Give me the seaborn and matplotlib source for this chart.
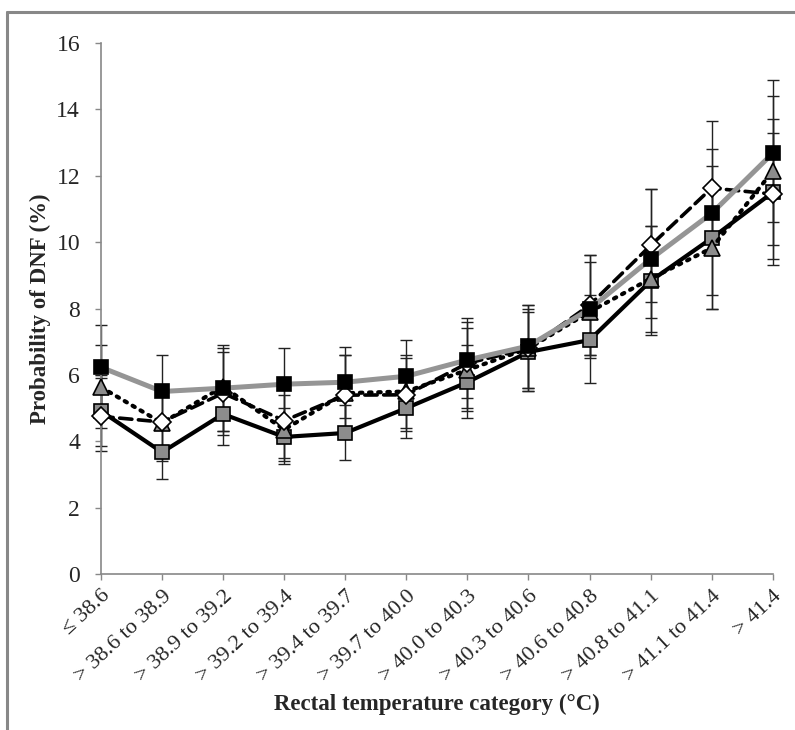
import matplotlib
matplotlib.use("Agg")
import matplotlib.pyplot as plt
import seaborn as sns
import numpy as np
import pandas as pd
from matplotlib.lines import Line2D

categories = ["≤ 38.6", "> 38.6 to 38.9", "> 38.9 to 39.2", "> 39.2 to 39.4",
              "> 39.4 to 39.7", "> 39.7 to 40.0", "> 40.0 to 40.3", "> 40.3 to 40.6",
              "> 40.6 to 40.8", "> 40.8 to 41.1", "> 41.1 to 41.4", "> 41.4"]

black_sq = [6.23, 5.5, 5.6, 5.72, 5.78, 5.96, 6.45, 6.87, 7.98, 9.49, 10.87, 12.68]
black_sq_lo = [5.0, 4.4, 4.3, 4.6, 4.7, 4.85, 5.3, 5.6, 6.6, 7.7, 8.4, 10.6]
black_sq_hi = [7.5, 6.6, 6.9, 6.8, 6.85, 7.05, 7.7, 8.1, 9.6, 11.6, 13.65, 14.9]

gray_sq = [4.91, 3.67, 4.82, 4.13, 4.25, 5.0, 5.78, 6.69, 7.05, 8.83, 10.12, 11.5]
gray_sq_lo = [3.85, 2.85, 3.9, 3.3, 3.45, 4.1, 4.7, 5.5, 5.75, 7.2, 8.0, 9.3]
gray_sq_hi = [6.0, 4.5, 5.7, 5.0, 5.1, 5.9, 6.9, 7.9, 8.4, 10.5, 12.3, 13.7]

triangle = [5.63, 4.55, 5.65, 4.35, 5.45, 5.5, 6.15, 6.8, 7.9, 8.9, 9.82, 12.14]
triangle_lo = [4.4, 3.4, 4.3, 3.4, 4.3, 4.4, 4.9, 5.5, 6.5, 7.3, 8.0, 9.9]
triangle_hi = [6.9, 5.7, 6.8, 5.4, 6.6, 6.6, 7.4, 8.1, 9.4, 10.5, 11.7, 14.4]

diamond = [4.75, 4.58, 5.45, 4.62, 5.39, 5.4, 6.35, 6.8, 8.1, 9.9, 11.63, 11.45]
diamond_lo = [3.7, 3.5, 4.2, 3.5, 4.2, 4.3, 5.0, 5.6, 6.6, 8.2, 9.6, 9.5]
diamond_hi = [5.9, 5.6, 6.7, 5.7, 6.6, 6.5, 7.6, 8.0, 9.6, 11.6, 12.8, 13.3]

sns.set_theme(style="white")
plt.rcParams['font.family'] = ['Liberation Serif', 'DejaVu Serif']

fig = plt.figure(figsize=(7.95, 7.30), dpi=100)
ax = fig.add_axes([0.127, 0.2137, 0.845, 0.7273])

x = np.arange(len(categories))

series = [
    # values, lo, hi, line color, linestyle, lw, marker, face, ms, z
    (gray_sq, gray_sq_lo, gray_sq_hi, "black", "-", 3.0, "s", "#8c8c8c", 10.5, 3),
    (triangle, triangle_lo, triangle_hi, "black", (0, (0.6, 1.6)), 3.0, "^", "#8c8c8c", 11, 4),
    (diamond, diamond_lo, diamond_hi, "black", (0, (3.4, 1.8)), 2.6, "D", "white", 9, 5),
    (black_sq, black_sq_lo, black_sq_hi, "#959595", "-", 3.6, "s", "black", 10.5, 6),
]

# error bars first
for vals, lo, hi, *_ in series:
    v = np.array(vals)
    err = np.vstack([v - np.array(lo), np.array(hi) - v])
    ax.errorbar(x, v, yerr=err, fmt="none", ecolor="#222222", elinewidth=1.0,
                capsize=4, capthick=1.0, zorder=2, clip_on=False)

for vals, lo, hi, lc, ls, lw, mk, fc, ms, z in series:
    df = pd.DataFrame({"x": x, "y": vals})
    sns.lineplot(data=df, x="x", y="y", ax=ax, color=lc, linewidth=lw,
                 marker=None, zorder=z, clip_on=False)
    line = ax.lines[-1]
    line.set_linestyle(ls)
    if ls != "-":
        line.set_dash_capstyle("round")
    ax.plot(x, vals, linestyle="none", marker=mk, markersize=ms,
            markerfacecolor=fc, markeredgecolor="black", markeredgewidth=1.2,
            zorder=z + 0.5, clip_on=False)

ax.set_xlim(0, 11)
ax.set_ylim(0, 16)
ax.set_yticks(range(0, 17, 2))
ax.set_xticks(x)
ax.set_xticklabels(categories, rotation=43, ha="right", rotation_mode="anchor",
                   fontsize=16)
ax.tick_params(axis="y", labelsize=17, length=4, width=1, color="#888888",
               direction="out", left=True, pad=11)
ax.tick_params(axis="x", length=4, width=1, color="#888888", direction="out",
               bottom=True, pad=5)
for s in ["top", "right"]:
    ax.spines[s].set_visible(False)
for s in ["left", "bottom"]:
    ax.spines[s].set_color("#888888")
    ax.spines[s].set_linewidth(1.2)

ax.set_ylabel("Probability of DNF (%)", fontsize=16.5, fontweight="bold", labelpad=4)
ax.set_xlabel("Rectal temperature category (°C)", fontsize=16.5, fontweight="bold",
              labelpad=6)
ax.grid(False)

# figure frame (left and top)
fig.add_artist(Line2D([7 / 795, 7 / 795], [0, 1 - 12 / 730], color="#888888", lw=2.2,
                      transform=fig.transFigure))
fig.add_artist(Line2D([7 / 795, 1], [1 - 12 / 730, 1 - 12 / 730], color="#888888", lw=2.2,
                      transform=fig.transFigure))

fig.savefig("out.png", dpi=100)
